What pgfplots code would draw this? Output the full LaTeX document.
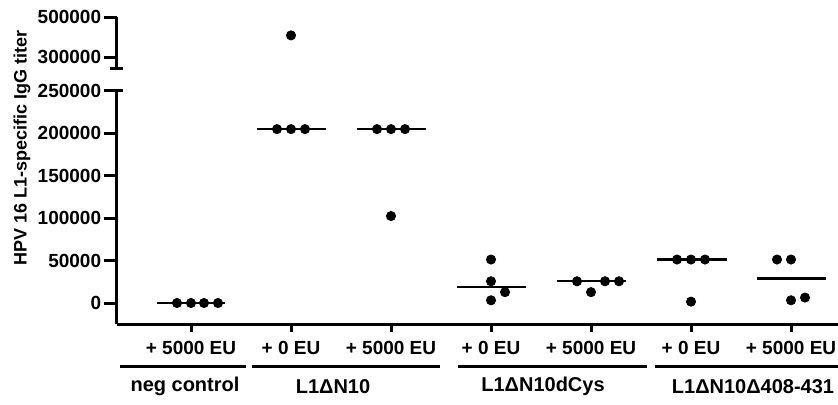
\documentclass[border=0pt]{standalone}
\usepackage{fontspec}
\setmainfont{Liberation Sans}
\usepackage{pgfplots}
\pgfplotsset{compat=1.18}

\newcommand{\lbl}{\fontsize{9.5}{11}\selectfont\bfseries}

\pgfplotsset{
  titer/.style={
    scale only axis, width=360.75pt, clip=false,
    xmin=-0.745, xmax=6.47,
    axis line style={line width=1.5pt},
    tick style={line width=1.5pt, black},
    major tick length=6.5pt,
    tick align=outside,
    tick label style={font=\lbl, inner sep=1pt},
    /pgf/number format/fixed,
    /pgf/number format/precision=0,
    /pgf/number format/assume math mode=true,
    /pgf/number format/1000 sep={},
    scaled y ticks=false,
    mark size=2.3pt,
  },
  dots/.style={only marks, mark=*, black},
  med/.style={black, line width=1.2pt, no marks},
}

\begin{document}
\begin{tikzpicture}
\useasboundingbox (-58.25pt,-40pt) rectangle (360.75pt,162pt);

% lower part of the broken axis
\begin{axis}[titer,
  height=116.64pt,
  ymin=-24732, ymax=250000,
  axis x line*=bottom, axis y line*=left,
  ytick={0,50000,100000,150000,200000,250000},
  xtick={0,...,6},
  xticklabels={+ 5000 EU,+ 0 EU,+ 5000 EU,+ 0 EU,+ 5000 EU,+ 0 EU,+ 5000 EU},
  x tick label style={yshift=-1pt},
  xtick style={/pgfplots/major tick length=3.75pt},
]
% medians
\addplot[med] coordinates {(-0.343,0) (0.34,0)};
\addplot[med] coordinates {(0.657,204800) (1.347,204800)};
\addplot[med] coordinates {(1.657,204800) (2.347,204800)};
\addplot[med] coordinates {(2.657,19200) (3.347,19200)};
\addplot[med] coordinates {(3.657,25600) (4.347,25600)};
\addplot[med] coordinates {(4.657,51200) (5.357,51200)};
\addplot[med] coordinates {(5.657,28800) (6.347,28800)};
% individual titers
\addplot[dots] coordinates {(-0.14,0) (0,0) (0.13,0) (0.27,0)};
\addplot[dots] coordinates {(0.86,204800) (1,204800) (1.14,204800)};
\addplot[dots] coordinates {(1.86,204800) (2,204800) (2.14,204800) (2,102400)};
\addplot[dots] coordinates {(3,51200) (3,25600) (3.14,12800) (3,3200)};
\addplot[dots] coordinates {(3.86,25600) (4,12800) (4.14,25600) (4.28,25600)};
\addplot[dots] coordinates {(4.86,51200) (5,51200) (5.14,51200) (5,1600)};
\addplot[dots] coordinates {(5.86,51200) (6,51200) (6,3200) (6.14,6400)};

\draw[line width=1.5pt] (-0.745,250000) -- (-0.68,250000);

% group brackets
\draw[line width=1.5pt] (-0.71,-74200) -- (0.55,-74200);
\draw[line width=1.5pt] (0.607,-74200) -- (2.49,-74200);
\draw[line width=1.5pt] (2.67,-74200) -- (4.557,-74200);
\draw[line width=1.5pt] (4.64,-74200) -- (6.47,-74200);
\node[font=\fontsize{10}{12}\selectfont\bfseries] at (-0.06,-98500) {neg control};
\node[font=\fontsize{10}{12}\selectfont\bfseries] at (1.42,-98500) {L1ΔN10};
\node[font=\fontsize{10}{12}\selectfont\bfseries] at (3.52,-98500) {L1ΔN10dCys};
\node[font=\fontsize{10}{12}\selectfont\bfseries] at (5.62,-98500) {L1ΔN10Δ408-431};

\node[font=\fontsize{9}{10}\selectfont\bfseries, rotate=90] at (-1.69,182500) {HPV 16 L1-specific IgG titer};
\end{axis}

% upper part of the broken axis
\begin{axis}[titer,
  at={(0,128pt)},
  height=25.35pt,
  ymin=246500, ymax=500000,
  axis x line=none, axis y line*=left,
  ytick={300000,500000},
]
\addplot[dots] coordinates {(1,409600)};
\draw[line width=1.5pt] (-0.81,246500) -- (-0.68,246500);
\end{axis}
\end{tikzpicture}
\end{document}
